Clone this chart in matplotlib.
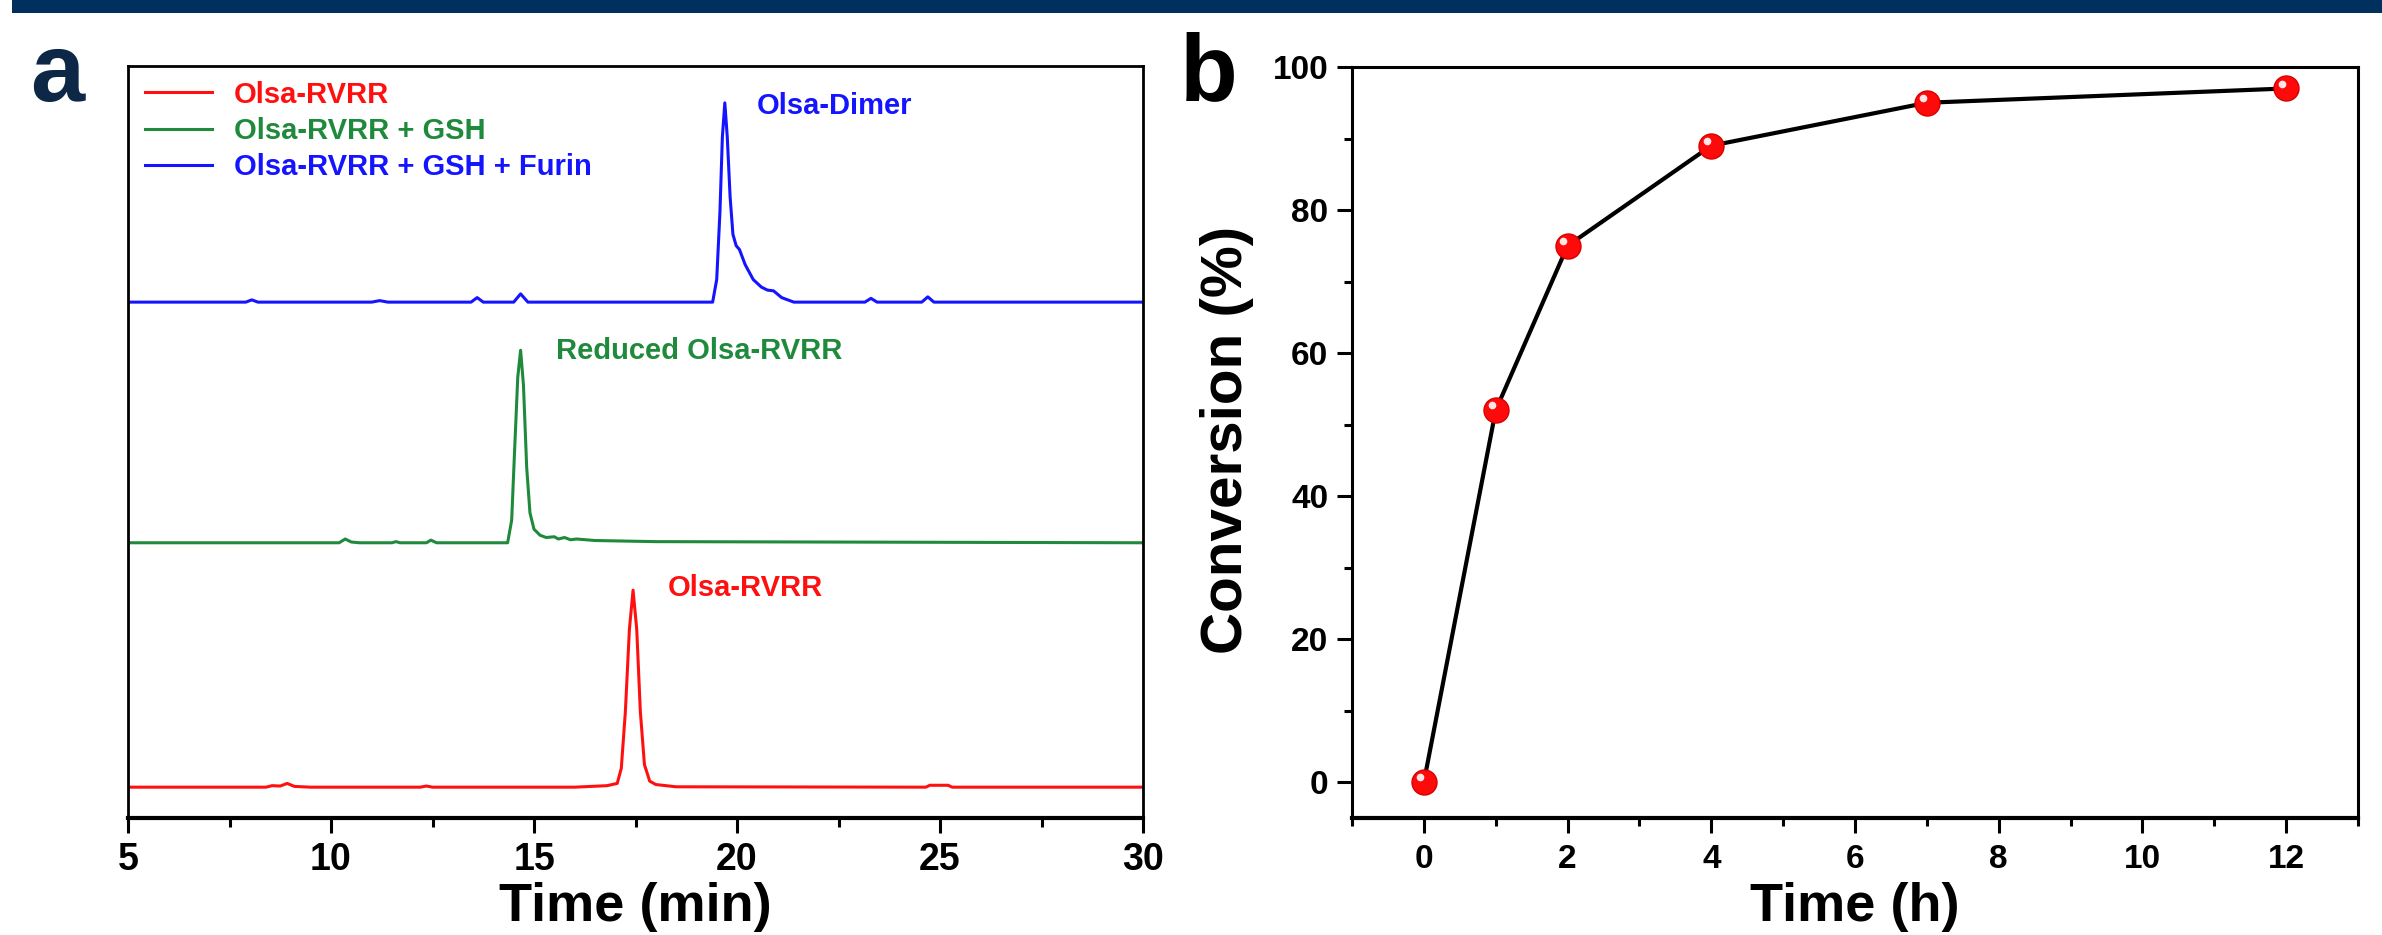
import matplotlib
matplotlib.use('Agg')
import matplotlib.pyplot as plt
from matplotlib import font_manager, transforms
from matplotlib.patches import Rectangle
from matplotlib.ticker import MultipleLocator
import numpy as np

# ---------------- data ----------------
# Panel a: HPLC traces (time in min, intensity above each trace's baseline)
red_t = [5, 8.4, 8.55, 8.75, 8.92, 9.1, 9.5, 12.2, 12.35, 12.5, 16.0, 16.8, 17.05, 17.15,
         17.25, 17.35, 17.44, 17.53, 17.62, 17.72, 17.85, 18.0, 18.5, 24.65, 24.75, 25.2, 25.3, 30]
red_i = [0, 0, 0.2, 0.15, 0.5, 0.1, 0, 0, 0.15, 0, 0, 0.2, 0.5, 2.5,
         10, 21, 26.2, 21, 10, 3, 0.8, 0.35, 0.05, 0, 0.25, 0.25, 0, 0]
green_t = [5, 10.2, 10.35, 10.5, 10.7, 11.5, 11.6, 11.7, 12.35, 12.46, 12.6, 14.35, 14.45,
           14.52, 14.6, 14.67, 14.74, 14.82, 14.9, 15.0, 15.15, 15.3, 15.5, 15.6, 15.75,
           15.9, 16.05, 16.5, 18.0, 30]
green_i = [0, 0, 0.5, 0.1, 0.0, 0, 0.15, 0, 0, 0.35, 0, 0, 3,
           12, 22, 25.6, 21, 10, 4, 1.8, 1.0, 0.7, 0.8, 0.5, 0.7,
           0.4, 0.5, 0.3, 0.15, 0]
blue_t = [5, 7.9, 8.05, 8.2, 11.0, 11.2, 11.4, 13.45, 13.6, 13.75, 14.5, 14.67, 14.85,
          19.4, 19.5, 19.58, 19.64, 19.7, 19.76, 19.83, 19.9, 19.98, 20.06, 20.2, 20.4,
          20.6, 20.75, 20.9, 21.1, 21.4, 23.15, 23.3, 23.45, 24.55, 24.7, 24.85, 30]
blue_i = [0, 0, 0.3, 0, 0, 0.2, 0, 0, 0.6, 0, 0, 1.1, 0,
          0, 3, 12, 22, 26.5, 22, 14, 9, 7.5, 7.0, 5.0, 3.0,
          2.0, 1.6, 1.5, 0.6, 0, 0, 0.5, 0, 0, 0.7, 0, 0]
trace_offsets = [4.1, 36.6, 68.6]
trace_labels = ['Olsa-RVRR', 'Olsa-RVRR + GSH', 'Olsa-RVRR + GSH + Furin']
peak_labels = ['Olsa-RVRR', 'Reduced Olsa-RVRR', 'Olsa-Dimer']
x_ticks_a = [5, 10, 15, 20, 25, 30]

# Panel b: conversion vs time
time_h = [0, 1, 2, 4, 7, 12]
conversion = [0, 52, 75, 89, 95, 97]
x_ticks_b = [0, 2, 4, 6, 8, 10, 12]
y_ticks_b = [0, 20, 40, 60, 80, 100]

# ---------------- style ----------------
RED, GREEN, BLUE = '#ff1010', '#1f8a3c', '#1414ff'
plt.rcParams['font.family'] = ['Liberation Sans', 'DejaVu Sans']
plt.rcParams['font.weight'] = 'bold'

names = {f.name for f in font_manager.fontManager.ttflist}
if 'Liberation Sans Narrow' in names:
    NARROW = ['Liberation Sans Narrow', 'Liberation Sans']
    lab_size = 25
else:
    NARROW = ['Liberation Sans', 'DejaVu Sans']
    lab_size = 21

W, H = 2382, 935
fig = plt.figure(figsize=(W / 100, H / 100), dpi=100)
fig.patch.set_facecolor('white')

def fx(px):
    return px / W

def fy(py):
    return 1 - py / H

# banner
fig.patches.append(Rectangle((fx(12), fy(13)), 1 - fx(12), 13 / H, transform=fig.transFigure,
                             facecolor='#01305f', edgecolor='none', zorder=0))

# ---------------- panel a ----------------
ax_a = fig.add_axes([fx(128), fy(818), fx(1143) - fx(128), fy(66) - fy(818)])
series = [(red_t, red_i, RED), (green_t, green_i, GREEN), (blue_t, blue_i, BLUE)]
handles = []
for (t, i, c), off, lab in zip(series, trace_offsets, trace_labels):
    ln, = ax_a.plot(t, np.array(i) + off, color=c, lw=2.2, solid_joinstyle='round', label=lab)
    handles.append(ln)
ax_a.set_xlim(5, 30)
ax_a.set_ylim(0, 100)
ax_a.set_xticks(x_ticks_a)
ax_a.xaxis.set_minor_locator(MultipleLocator(2.5))
ax_a.set_yticks([])
ax_a.tick_params(axis='x', which='major', direction='out', length=11, width=2.2,
                 labelsize=27, pad=6)
ax_a.tick_params(axis='x', which='minor', direction='out', length=6.5, width=2.2)
for s in ax_a.spines.values():
    s.set_linewidth(2.0)
ax_a.spines['bottom'].set_linewidth(3.0)

leg = ax_a.legend(handles=handles, loc='upper left', bbox_to_anchor=(0.002, 1.0),
                  frameon=False, handlelength=2.3, handletextpad=0.75, labelspacing=0.28,
                  borderpad=0.0, prop={'family': NARROW, 'weight': 'bold', 'size': lab_size},
                  labelcolor='linecolor')

ax_a.text(20.49, 94.7, peak_labels[2], color=BLUE, fontsize=lab_size, family=NARROW,
          fontweight='bold', ha='left', va='center')
ax_a.text(15.54, 62.1, peak_labels[1], color=GREEN, fontsize=lab_size, family=NARROW,
          fontweight='bold', ha='left', va='center')
ax_a.text(18.3, 30.6, peak_labels[0], color=RED, fontsize=lab_size, family=NARROW,
          fontweight='bold', ha='left', va='center')

fig.text(fx(635), fy(921), 'Time (min)', fontsize=39, fontweight='bold', ha='center',
         va='baseline')
fig.text(fx(57), fy(101), 'a', fontsize=70, fontweight='bold', color='#0d2847',
         ha='center', va='baseline')

# ---------------- panel b ----------------
ax_b = fig.add_axes([fx(1352), fy(818), fx(2358) - fx(1352), fy(67) - fy(818)])
ax_b.plot(time_h, conversion, '-', color='black', lw=3.0, zorder=2)
ax_b.plot(time_h, conversion, 'o', ms=18, mfc='#ff0a0a', mec='#d80000', mew=1.0, zorder=3)
hl = transforms.offset_copy(ax_b.transData, fig=fig, x=-3, y=3.5, units='points')
ax_b.plot(time_h, conversion, 'o', ms=5.5, mfc='white', mec='none', alpha=0.9,
          transform=hl, zorder=4)
ax_b.set_xlim(-1, 13)
ax_b.set_ylim(-5, 100)
ax_b.set_xticks(x_ticks_b)
ax_b.set_yticks(y_ticks_b)
ax_b.xaxis.set_minor_locator(MultipleLocator(1))
ax_b.yaxis.set_minor_locator(MultipleLocator(10))
ax_b.tick_params(which='major', direction='out', length=11, width=2.2, labelsize=24)
ax_b.tick_params(axis='x', which='major', pad=8)
ax_b.tick_params(axis='y', which='major', pad=6)
ax_b.tick_params(which='minor', direction='out', length=6, width=2.2)
for s in ax_b.spines.values():
    s.set_linewidth(2.2)
ax_b.spines['bottom'].set_linewidth(3.0)

fig.text(fx(1227), fy(440), 'Conversion (%)', fontsize=42, fontweight='bold', rotation=90,
         ha='center', va='center')
fig.text(fx(1855), fy(921), 'Time (h)', fontsize=39, fontweight='bold', ha='center',
         va='baseline')
fig.text(fx(1209), fy(100), 'b', fontsize=68, fontweight='bold', color='black',
         ha='center', va='baseline')

fig.savefig('out.png', dpi=100, facecolor='white')
